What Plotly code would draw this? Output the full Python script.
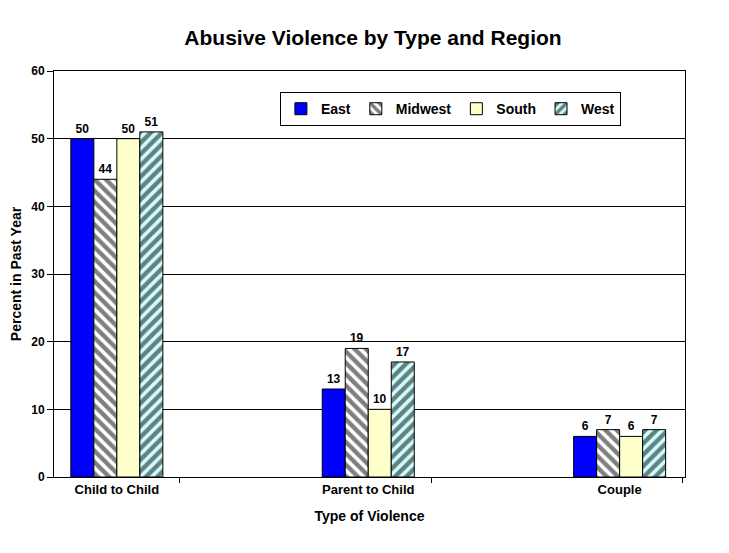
import plotly.graph_objects as go

categories = ["Child to Child", "Parent to Child", "Couple"]
east = [50, 13, 6]
midwest = [44, 19, 7]
south = [50, 10, 6]
west = [51, 17, 7]
y_ticks = [0, 10, 20, 30, 40, 50, 60]

FONT = "Arial, Liberation Sans, sans-serif"
xpos = list(range(len(categories)))

series = [
    ("East", east, dict(color="#0000FF")),
    ("Midwest", midwest, dict(color="#FFFFFF", pattern=dict(shape="\\", fgcolor="#000000", bgcolor="#FFFFFF", size=8, solidity=0.55, fillmode="overlay"))),
    ("South", south, dict(color="#FFFFCC")),
    ("West", west, dict(color="#CCFFFF", pattern=dict(shape="/", fgcolor="#000000", bgcolor="#CCFFFF", size=8, solidity=0.55, fillmode="overlay"))),
]

fig = go.Figure()
for name, vals, marker in series:
    marker = dict(marker)
    marker["line"] = dict(color="#000000", width=1)
    fig.add_trace(go.Bar(
        name=f"<b>{name}</b>", x=xpos, y=vals, marker=marker,
        text=[f"<b>{v}</b>" for v in vals], textposition="outside",
        textfont=dict(family=FONT, size=12, color="#000000"),
        cliponaxis=False,
    ))

fig.update_layout(
    width=729, height=553,
    paper_bgcolor="#FFFFFF", plot_bgcolor="#FFFFFF",
    margin=dict(l=46, r=52, t=63, b=84),
    barmode="group", bargap=0.634, bargroupgap=0,
    title=dict(text="<b>Abusive Violence by Type and Region</b>", x=0.5007, xanchor="center",
               y=0.946, yanchor="middle", font=dict(family=FONT, size=21, color="#000000")),
    font=dict(family=FONT, color="#000000"),
    legend=dict(orientation="h", x=0.358, y=0.948, xanchor="left", yanchor="top",
                bordercolor="#000000", borderwidth=1, bgcolor="#FFFFFF",
                font=dict(family=FONT, size=14, color="#000000"),
                itemwidth=30, traceorder="normal"),
    showlegend=True,
)

fig.update_xaxes(
    range=[-0.25, 2.26], tickvals=xpos, ticktext=[f"<b>{c}</b>" for c in categories],
    ticks="", showline=True, linecolor="#000000", linewidth=1, mirror=True,
    showgrid=False, zeroline=False, automargin=False,
    tickfont=dict(family=FONT, size=13, color="#000000"),
    minor=dict(tick0=0.25, dtick=1, ticks="outside", ticklen=5, tickcolor="#000000", showgrid=False),
    title=dict(text="<b>Type of Violence</b>", font=dict(family=FONT, size=14, color="#000000")),
)
fig.update_yaxes(
    range=[0, 60], tickvals=y_ticks, ticktext=[f"<b>{v}</b>" for v in y_ticks],
    ticks="outside", ticklen=6, tickcolor="#000000",
    showline=True, linecolor="#000000", linewidth=1, mirror=True,
    showgrid=True, gridcolor="#000000", gridwidth=1, zeroline=False, automargin=False,
    tickfont=dict(family=FONT, size=12, color="#000000"),
    title=dict(text="<b>Percent in Past Year</b>", font=dict(family=FONT, size=14, color="#000000")),
)

fig.write_html("out.html")
